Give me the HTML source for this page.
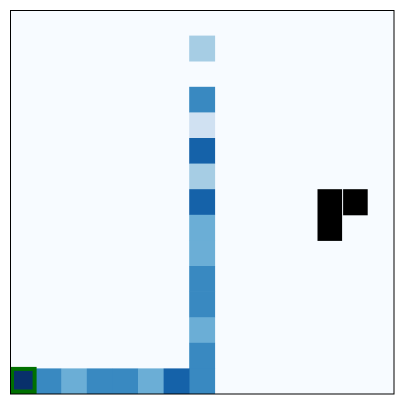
<!DOCTYPE html>
<html><head><meta charset="utf-8"><style>
html,body{margin:0;padding:0;background:#fff;width:405px;height:405px;overflow:hidden}
svg{display:block}
</style></head><body>
<svg id="chart" width="405" height="405">
<rect x="10" y="10" width="384" height="384" fill="#f7fbff"/>
<g id="cells"></g>
<rect x="10.5" y="10.5" width="383.5" height="383.5" fill="none" stroke="#000" stroke-width="1"/>
</svg>
<script>
const cellRows = [1,3,4,5,6,7,8,9,10,11,12,13,14,14,14,14,14,14,14,14];
const cellCols = [7,7,7,7,7,7,7,7,7,7,7,7,7,0,1,2,3,4,5,6];
const cellValues = [0.35,0.66,0.2,0.81,0.35,0.81,0.5,0.5,0.66,0.66,0.5,0.66,0.66,1.0,0.66,0.5,0.66,0.66,0.5,0.81];
const obstacleRows = [7,7,8];
const obstacleCols = [12,13,12];
const startCell = [14,0];
const gridSize = 15;

const x0=10,y0=10,W=384,cs=W/gridSize;
function xPos(c){return x0+c*cs;}
function yPos(r){return y0+r*cs;}
const stops=["#f7fbff","#deebf7","#c6dbef","#9ecae1","#6baed6","#4292c6","#2171b5","#08519c","#08306b"];
function hex(h){return [1,3,5].map(i=>parseInt(h.substr(i,2),16));}
function blues(v){v=Math.max(0,Math.min(1,v));const p=v*8,i=Math.min(7,Math.floor(p)),t=p-i;
const a=hex(stops[i]),b=hex(stops[i+1]);return "rgb("+a.map((x,k)=>Math.round(x+(b[k]-x)*t)).join(",")+")";}
const ns="http://www.w3.org/2000/svg",g=document.getElementById("cells");
cellValues.forEach((v,i)=>{
  const r=document.createElementNS(ns,"rect");
  r.setAttribute("x",xPos(cellCols[i]));r.setAttribute("y",yPos(cellRows[i]));
  r.setAttribute("width",cs+0.3);r.setAttribute("height",cs+0.3);r.setAttribute("fill",blues(v));
  
  
  g.appendChild(r);
});
obstacleRows.forEach((row,i)=>{
  const r=document.createElementNS(ns,"rect");
  r.setAttribute("x",xPos(obstacleCols[i])+0.3);r.setAttribute("y",yPos(row));
  r.setAttribute("width",cs-1);r.setAttribute("height",cs+0.5);r.setAttribute("fill","#000");
  
  
  g.appendChild(r);
});
const s=document.createElementNS(ns,"rect");
s.setAttribute("x",xPos(startCell[1])+2);s.setAttribute("y",yPos(startCell[0])+0.5);
s.setAttribute("width",cs-3);s.setAttribute("height",cs-3);s.setAttribute("fill","none");
s.setAttribute("stroke","#007000");s.setAttribute("stroke-width","4");


g.appendChild(s);
</script>
</body></html>
